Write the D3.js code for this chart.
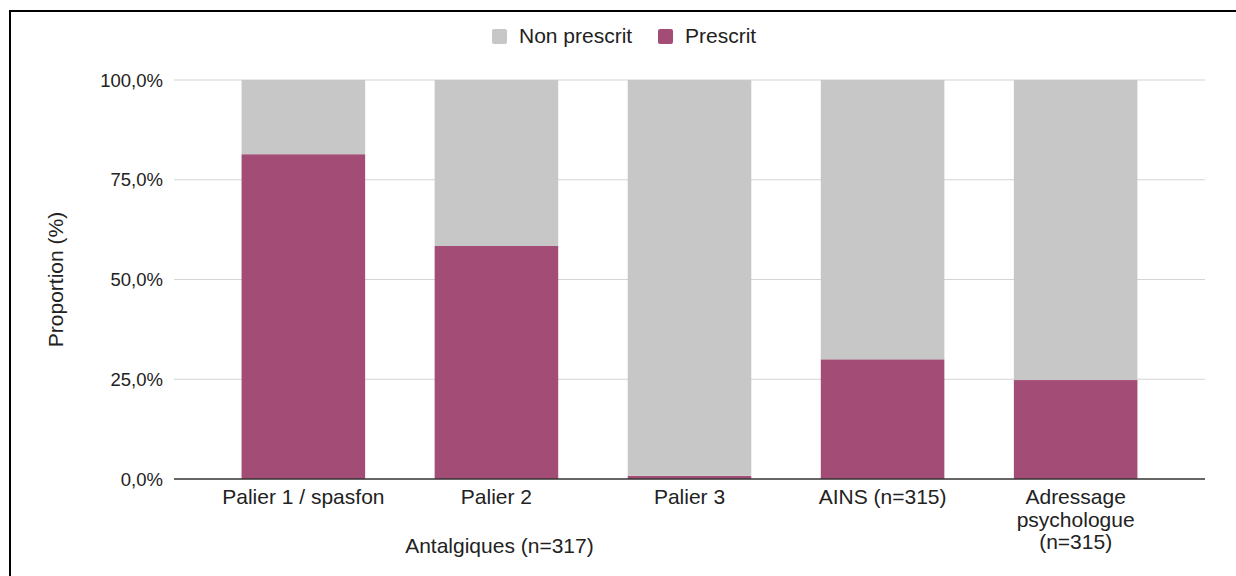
<!DOCTYPE html>
<html>
<head>
<meta charset="utf-8">
<script src="https://cdn.jsdelivr.net/npm/d3@7"></script>
<style>
  html, body { margin: 0; padding: 0; background: #fff; }
  svg { display: block; }
  text { font-family: "Liberation Sans", Arial, sans-serif; fill: #222; }
</style>
</head>
<body>
<svg id="chart" width="1236" height="576"></svg>
<script>
// Categories (multi-line labels split on "\n")
const categories = [
  "Palier 1 / spasfon",
  "Palier 2",
  "Palier 3",
  "AINS (n=315)",
  "Adressage\npsychologue\n(n=315)"
];
// Stacked shares, in %
const prescrit    = [81.4, 58.4, 0.8, 30.0, 24.8];
const nonPrescrit = [18.6, 41.6, 99.2, 70.0, 75.2];
const seriesNames = ["Non prescrit", "Prescrit"];
const seriesColors = ["#c7c7c7", "#a34c76"];
const yTicks = [0, 25, 50, 75, 100];
const yTitle = "Proportion (%)";
const xTitle = "Antalgiques (n=317)";

const svg = d3.select("#chart");

// frame
svg.append("path")
  .attr("d", "M10,600 L10,11 L1240,11")
  .attr("fill", "none")
  .attr("stroke", "#000")
  .attr("stroke-width", 2);

const x = d3.scaleBand()
  .domain(categories)
  .range([174, 1205])
  .paddingInner(0.36)
  .paddingOuter(0.35);

const y = d3.scaleLinear().domain([0, 100]).range([479, 80]);

// gridlines
svg.append("g")
  .selectAll("line")
  .data(yTicks.filter(d => d !== 0))
  .join("line")
  .attr("x1", 174).attr("x2", 1205)
  .attr("y1", d => y(d)).attr("y2", d => y(d))
  .attr("stroke", "#d4d4d4")
  .attr("stroke-width", 1.2);

// y tick labels
const fmt = d => d.toFixed(1).replace(".", ",") + "%";
svg.append("g")
  .selectAll("text")
  .data(yTicks)
  .join("text")
  .attr("x", 163)
  .attr("y", d => y(d))
  .attr("dy", "0.36em")
  .attr("text-anchor", "end")
  .style("font-size", "18.5px")
  .text(fmt);

// stacked bars
const rows = categories.map((c, i) => ({ cat: c, "Prescrit": prescrit[i], "Non prescrit": nonPrescrit[i] }));
const stack = d3.stack().keys(["Prescrit", "Non prescrit"])(rows);
const color = d3.scaleOrdinal().domain(seriesNames).range(seriesColors);

svg.append("g")
  .selectAll("g")
  .data(stack)
  .join("g")
  .attr("fill", s => color(s.key))
  .selectAll("rect")
  .data(s => s)
  .join("rect")
  .attr("x", d => x(d.data.cat))
  .attr("width", x.bandwidth())
  .attr("y", d => y(d[1]))
  .attr("height", d => y(d[0]) - y(d[1]));

// baseline
svg.append("line")
  .attr("x1", 174).attr("x2", 1205)
  .attr("y1", y(0)).attr("y2", y(0))
  .attr("stroke", "#333")
  .attr("stroke-width", 1.3);

// x labels
const xl = svg.append("g")
  .selectAll("text")
  .data(categories)
  .join("text")
  .attr("text-anchor", "middle")
  .style("font-size", "21px")
  .attr("transform", d => `translate(${x(d) + x.bandwidth() / 2},504)`);
xl.selectAll("tspan")
  .data(d => d.split("\n"))
  .join("tspan")
  .attr("x", 0)
  .attr("y", (d, i) => i * 22.5)
  .text(d => d);

// x title, under the analgesic groups
svg.append("text")
  .attr("x", x(categories[1]) + x.bandwidth() / 2 + 3)
  .attr("y", 553)
  .attr("text-anchor", "middle")
  .style("font-size", "21px")
  .text(xTitle);

// y title
svg.append("text")
  .attr("transform", `translate(63,${(y(0) + y(100)) / 2}) rotate(-90)`)
  .attr("text-anchor", "middle")
  .style("font-size", "21px")
  .text(yTitle);

// legend
const legendPos = [492, 658];
const lg = svg.append("g")
  .selectAll("g")
  .data(seriesNames)
  .join("g")
  .attr("transform", (d, i) => `translate(${legendPos[i]},29)`);
lg.append("rect")
  .attr("width", 15).attr("height", 15)
  .attr("rx", 2)
  .attr("fill", d => color(d));
lg.append("text")
  .attr("x", 27)
  .attr("y", 14)
  .style("font-size", "21px")
  .text(d => d);
</script>
</body>
</html>
